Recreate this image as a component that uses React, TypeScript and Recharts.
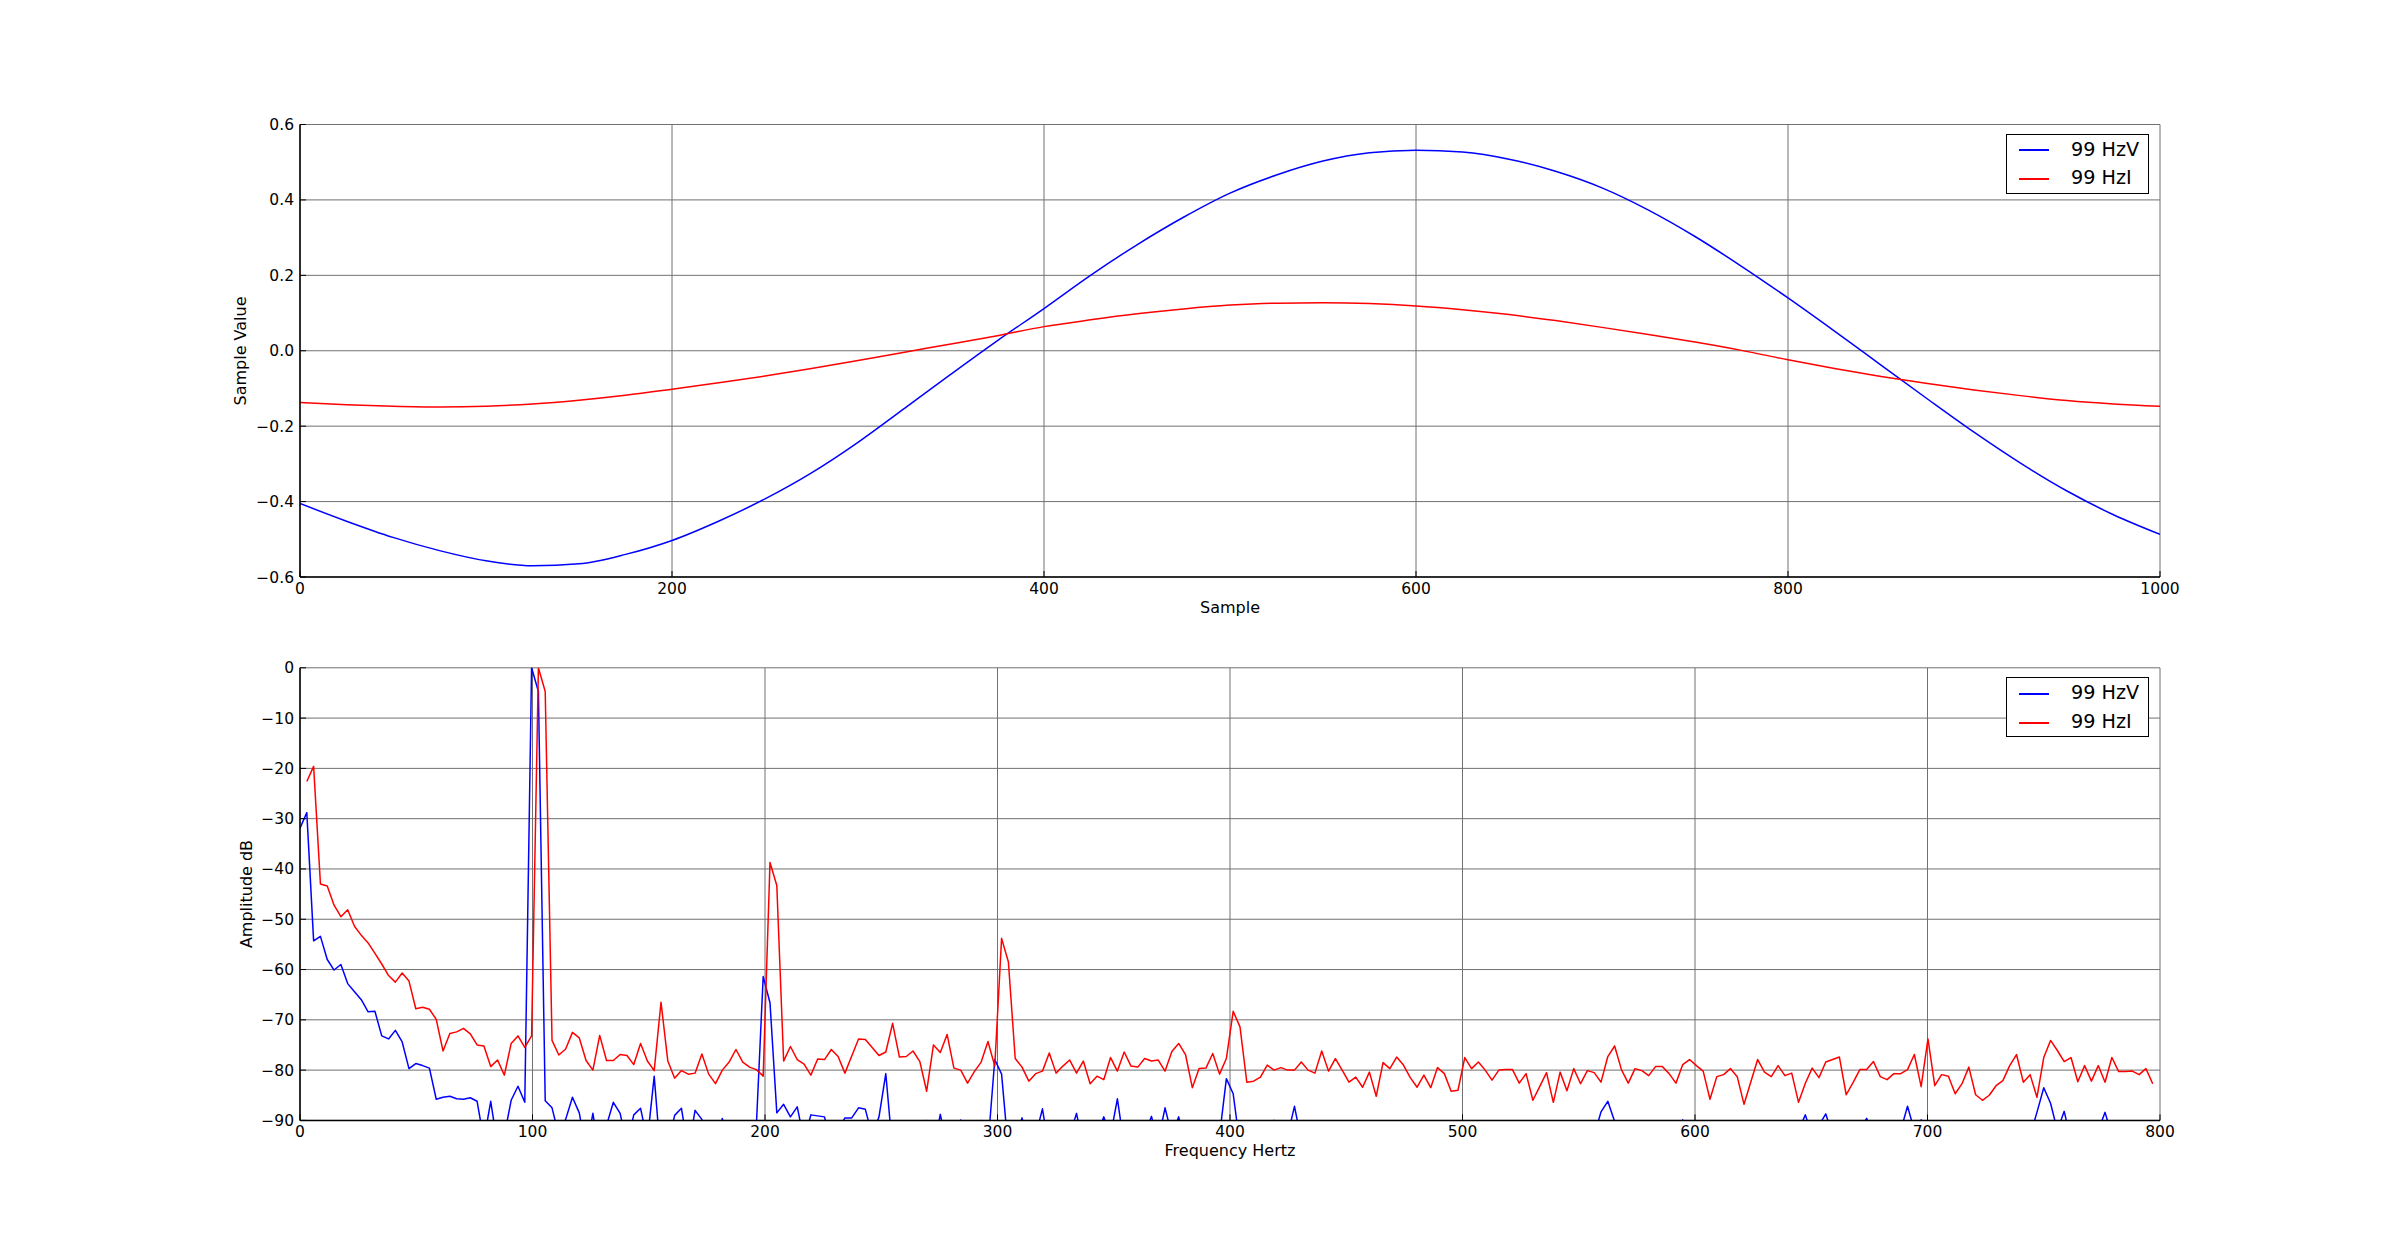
import { CartesianGrid, Line, LineChart, XAxis, YAxis } from "recharts"

// time domain, read every 25 samples
const sampleIdx = [
  0, 25, 50, 75, 100, 125, 150, 175, 200, 225, 250, 275, 300, 325, 350, 375, 400, 425, 450, 475, 500,
  525, 550, 575, 600, 625, 650, 675, 700, 725, 750, 775, 800, 825, 850, 875, 900, 925, 950, 975, 1000,
]
const sampleV = [
  -0.405, -0.452, -0.495, -0.53, -0.557, -0.57, -0.565, -0.54, -0.503, -0.452, -0.393, -0.324, -0.243,
  -0.153, -0.062, 0.027, 0.112, 0.2, 0.281, 0.354, 0.418, 0.466, 0.503, 0.525, 0.532, 0.527, 0.508, 0.476,
  0.432, 0.373, 0.303, 0.224, 0.14, 0.052, -0.038, -0.128, -0.216, -0.298, -0.372, -0.435, -0.487,
]
const sampleI = [
  -0.137, -0.143, -0.147, -0.149, -0.147, -0.141, -0.131, -0.118, -0.102, -0.085, -0.067, -0.047, -0.026,
  -0.004, 0.018, 0.04, 0.064, 0.082, 0.098, 0.111, 0.121, 0.126, 0.127, 0.125, 0.119, 0.109, 0.096, 0.08,
  0.062, 0.043, 0.023, 0.001, -0.024, -0.047, -0.068, -0.087, -0.104, -0.119, -0.132, -0.141, -0.147,
]
const sampleTicks = [0, 200, 400, 600, 800, 1000]
const valueTicks = [-0.6, -0.4, -0.2, 0, 0.2, 0.4, 0.6]

// spectrum, one value per FFT bin (96 kHz / 32768 points)
const BIN_HZ = 96000 / 32768
const ampV = [
  -31.9, -28.8, -54.3, -53.4, -58.0, -60.1, -59.0, -62.8, -64.4, -66.0,
  -68.4, -68.3, -73.2, -73.8, -72.1, -74.4, -79.7, -78.7, -79.1, -79.6,
  -85.8, -85.4, -85.2, -85.7, -85.8, -85.5, -86.2, -94, -86.2, -95,
  -93, -86.0, -83.2, -86.4, 0, -4.7, -86.1, -87.5, -93, -89.8,
  -85.4, -88.5, -96, -88.6, -97, -91, -86.4, -88.6, -95, -88.9,
  -87.6, -94, -81.2, -98, -95, -89.0, -87.6, -96, -88.0, -89.8,
  -95, -97, -89.6, -96, -99, -95, -97, -91, -61.4, -66.6,
  -88.5, -86.8, -89.3, -87.3, -94, -88.9, -89.1, -89.3, -95, -92,
  -89.5, -89.5, -87.5, -87.8, -93, -89.3, -80.7, -96, -98, -95,
  -97, -94, -90.0, -96, -88.8, -95, -97, -89.9, -94, -96,
  -90.0, -95, -77.9, -80.8, -96, -94, -89.5, -95, -93, -87.7,
  -96, -94, -97, -93, -88.6, -95, -97, -93, -89.3, -93,
  -85.7, -95, -97, -96, -93, -89.2, -94, -87.5, -93, -89.3,
  -95, -97, -98, -96, -95, -93, -81.7, -84.7, -95, -97,
  -96, -94, -93, -90.0, -95, -93, -87.2, -94, -96, -98,
  -95, -97, -94, -96, -98, -95, -97, -96, -94, -97,
  -95, -98, -96, -94, -97, -95, -96, -98, -95, -97,
  -94, -96, -98, -95, -97, -96, -94, -97, -95, -98,
  -96, -94, -97, -95, -96, -98, -95, -97, -94, -96,
  -93, -88.3, -86.2, -90.2, -95, -97, -96, -94, -97, -95,
  -98, -96, -93, -89.9, -94, -97, -95, -98, -96, -94,
  -97, -95, -98, -96, -94, -97, -95, -96, -98, -94,
  -92, -88.9, -93, -91, -88.7, -93, -96, -98, -95, -92,
  -89.6, -93, -96, -98, -95, -92, -87.2, -92, -89.9, -93,
  -96, -98, -95, -97, -96, -94, -97, -95, -98, -94,
  -90.3, -92, -91, -90.3, -93, -88.4, -83.5, -86.6, -92, -88.2,
  -94, -96, -98, -95, -92, -88.4, -93, -96, -98, -95,
  -97, -96, -94,
]
const ampI = [
  null, -22.6, -19.6, -43.0, -43.4, -47.2, -49.5, -48.1, -51.4, -53.2,
  -54.7, -56.8, -58.9, -61.2, -62.5, -60.7, -62.3, -67.8, -67.5, -67.9,
  -69.9, -76.2, -72.7, -72.4, -71.7, -72.8, -75.0, -75.2, -79.3, -78.0,
  -81.0, -74.7, -73.2, -75.5, -73.2, 0, -4.7, -74.1, -77.0, -75.8,
  -72.5, -73.6, -78.1, -80.0, -73.1, -78.1, -78.1, -76.9, -77.1, -78.9,
  -74.7, -78.2, -80.1, -66.5, -78.2, -81.6, -80.1, -80.8, -80.6, -76.8,
  -80.8, -82.7, -80.0, -78.4, -75.9, -78.4, -79.4, -79.9, -81.2, -38.7,
  -43.3, -78.2, -75.3, -77.9, -78.8, -81.0, -77.8, -77.9, -75.9, -77.3,
  -80.6, -77.2, -73.8, -73.9, -75.5, -77.1, -76.4, -70.7, -77.4, -77.3,
  -76.2, -78.3, -84.2, -75.0, -76.5, -72.9, -79.6, -80.0, -82.6, -80.3,
  -78.4, -74.3, -79.2, -53.8, -58.5, -77.7, -79.4, -82.2, -80.7, -80.2,
  -76.6, -80.6, -79.2, -78.0, -80.6, -78.2, -82.7, -81.2, -81.9, -77.5,
  -80.2, -76.4, -79.2, -79.4, -77.7, -78.2, -78.0, -80.2, -76.3, -74.7,
  -76.9, -83.5, -79.7, -79.6, -76.7, -80.8, -77.7, -68.3, -71.4, -82.4,
  -82.2, -81.4, -79.0, -80.0, -79.5, -80.0, -80.0, -78.4, -80.0, -80.6,
  -76.2, -80.2, -77.7, -80.0, -82.4, -81.4, -83.4, -80.4, -85.2, -78.5,
  -79.7, -77.4, -79.0, -81.5, -83.4, -81.0, -83.5, -79.5, -80.7, -84.2,
  -84.0, -77.5, -79.7, -78.4, -80.0, -82.0, -80.0, -79.9, -79.9, -82.6,
  -80.7, -86.0, -83.3, -80.5, -86.4, -80.4, -84.1, -79.7, -82.7, -80.1,
  -80.5, -82.4, -77.3, -75.2, -79.9, -82.6, -79.7, -80.1, -81.1, -79.3,
  -79.3, -80.7, -82.6, -78.9, -77.9, -79.1, -80.2, -85.8, -81.3, -80.9,
  -79.7, -81.3, -86.8, -82.3, -77.9, -80.4, -81.3, -79.1, -81.1, -80.6,
  -86.4, -82.6, -79.6, -81.5, -78.4, -77.9, -77.4, -84.9, -82.5, -79.9,
  -79.9, -78.3, -81.3, -81.9, -80.7, -80.7, -79.9, -76.9, -83.3, -73.8,
  -83.1, -80.9, -81.2, -84.7, -82.7, -79.4, -84.9, -86.0, -85.0, -83.1,
  -82.1, -79.1, -76.9, -82.4, -80.9, -85.4, -77.5, -74.1, -76.1, -78.3,
  -77.5, -82.3, -79.1, -82.2, -79.1, -82.4, -77.5, -80.3, -80.3, -80.2,
  -80.9, -79.7, -82.7,
]
const freqTicks = [0, 100, 200, 300, 400, 500, 600, 700, 800]
const dbTicks = [-90, -80, -70, -60, -50, -40, -30, -20, -10, 0]

const series = [
  { key: "v", name: "99 HzV", color: "#0000ff" },
  { key: "c", name: "99 HzI", color: "#ff0000" },
]

const sampleData = sampleIdx.map((s, i) => ({ x: s, v: sampleV[i], c: sampleI[i] }))
const spectrumData = ampV.map((v, i) => ({ x: i * BIN_HZ, v, c: ampI[i] }))

const minus = (s: string) => s.replace("-", "\u2212")
const fmt1 = (v: number) => minus((Math.abs(v) < 1e-9 ? 0 : v).toFixed(1))
const fmt0 = (v: number) => minus(String(Math.round(v)))

const FONT = "'DejaVu Sans', sans-serif"
const tickStyle = { fill: "#000", fontSize: 15.5 }
const frame = { stroke: "#000", strokeWidth: 1.5 }

function LegendBox({ top }: { top: number }) {
  return (
    <div
      style={{
        position: "absolute",
        left: 2006,
        top,
        width: 143,
        height: 60,
        boxSizing: "border-box",
        border: "1.5px solid #000",
        background: "#fff",
      }}
    >
      {series.map((s, i) => (
        <div key={s.key}>
          <div
            style={{
              position: "absolute",
              left: 12,
              top: 14.5 + i * 29,
              width: 30,
              height: 2,
              background: s.color,
            }}
          />
          <div
            style={{
              position: "absolute",
              left: 64,
              top: 15.3 + i * 28.6,
              transform: "translateY(-50%)",
              fontSize: 19.2,
              lineHeight: 1,
              whiteSpace: "nowrap",
            }}
          >
            {s.name}
          </div>
        </div>
      ))}
    </div>
  )
}

function Title({ x, y, text, rotate }: { x: number; y: number; text: string; rotate?: boolean }) {
  return (
    <div
      style={{
        position: "absolute",
        left: x,
        top: y,
        transform: `translate(-50%, -50%)${rotate ? " rotate(-90deg)" : ""}`,
        fontSize: 16,
        lineHeight: 1,
        whiteSpace: "nowrap",
      }}
    >
      {text}
    </div>
  )
}

type PanelProps = {
  top: number
  height: number
  marginTop: number
  marginBottom: number
  data: object[]
  xDomain: [number, number]
  xTicks: number[]
  yDomain: [number, number]
  yTicks: number[]
  yFmt: (v: number) => string
  curve: "linear" | "monotone"
}

function Panel(p: PanelProps) {
  return (
    <div style={{ position: "absolute", left: 0, top: p.top }}>
      <LineChart
        width={2400}
        height={p.height}
        data={p.data}
        margin={{ top: p.marginTop, right: 240, bottom: p.marginBottom, left: 0 }}
      >
        <CartesianGrid stroke="#707070" strokeWidth={1} />
        <XAxis
          dataKey="x"
          type="number"
          domain={p.xDomain}
          ticks={p.xTicks}
          interval={0}
          allowDataOverflow
          height={23}
          tickSize={-6}
          tickMargin={12}
          tick={tickStyle}
          tickLine={{ stroke: "#000" }}
          axisLine={frame}
        />
        <XAxis
          xAxisId="top"
          orientation="top"
          dataKey="x"
          type="number"
          domain={p.xDomain}
          ticks={p.xTicks}
          interval={0}
          height={0}
          tickSize={-6}
          tick={false}
          tickLine={{ stroke: "#000" }}
          axisLine={frame}
        />
        <YAxis
          type="number"
          domain={p.yDomain}
          ticks={p.yTicks}
          interval={0}
          allowDataOverflow
          width={300}
          tickSize={-6}
          tickMargin={12}
          tick={tickStyle}
          tickFormatter={p.yFmt}
          tickLine={{ stroke: "#000" }}
          axisLine={frame}
        />
        <YAxis
          yAxisId="right"
          orientation="right"
          type="number"
          domain={p.yDomain}
          ticks={p.yTicks}
          interval={0}
          width={0}
          tickSize={-6}
          tick={false}
          tickLine={{ stroke: "#000" }}
          axisLine={frame}
        />
        {series.map((s) => (
          <Line
            key={s.key}
            dataKey={s.key}
            name={s.name}
            type={p.curve}
            stroke={s.color}
            strokeWidth={1.5}
            strokeLinejoin="round"
            dot={false}
            activeDot={false}
            isAnimationActive={false}
          />
        ))}
      </LineChart>
    </div>
  )
}

export default function App() {
  return (
    <div
      style={{
        position: "absolute",
        left: 0,
        top: 0,
        width: 2400,
        height: 1245,
        background: "#fff",
        fontFamily: FONT,
        color: "#000",
      }}
    >
      <Panel
        top={0}
        height={620}
        marginTop={124.5}
        marginBottom={20}
        data={sampleData}
        xDomain={[0, 1000]}
        xTicks={sampleTicks}
        yDomain={[-0.6, 0.6]}
        yTicks={valueTicks}
        yFmt={fmt1}
        curve="monotone"
      />
      <Panel
        top={620}
        height={625}
        marginTop={47.8}
        marginBottom={101.6}
        data={spectrumData}
        xDomain={[0, 800]}
        xTicks={freqTicks}
        yDomain={[-90, 0]}
        yTicks={dbTicks}
        yFmt={fmt0}
        curve="linear"
      />
      <LegendBox top={133.5} />
      <LegendBox top={677} />
      <Title x={1230} y={607.8} text="Sample" />
      <Title x={241.1} y={350.75} text="Sample Value" rotate />
      <Title x={1230} y={1151.1} text="Frequency Hertz" />
      <Title x={247} y={894} text="Amplitude dB" rotate />
    </div>
  )
}
